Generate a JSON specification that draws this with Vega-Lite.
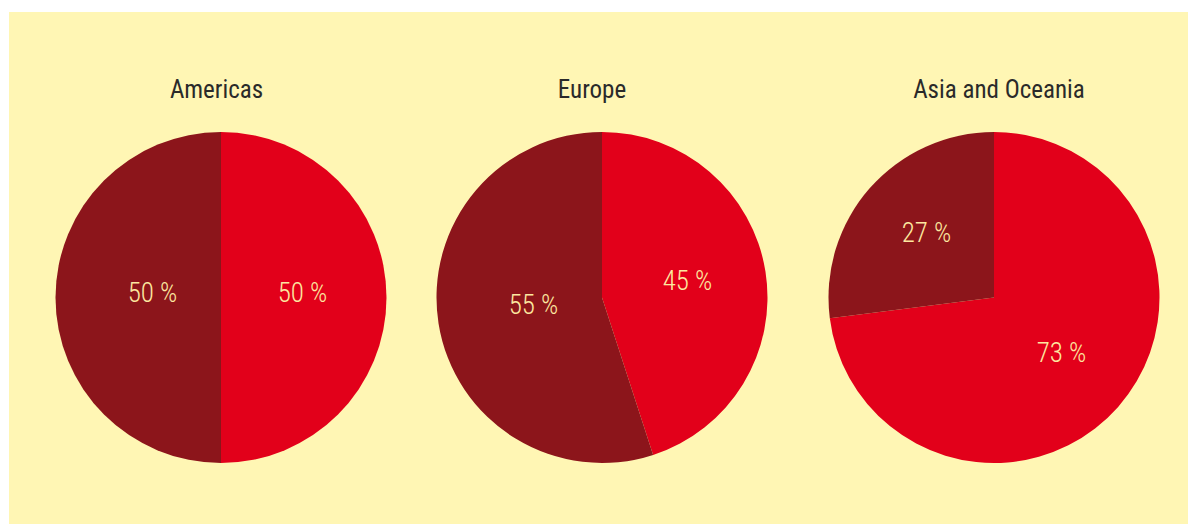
{
  "$schema": "https://vega.github.io/schema/vega-lite/v6.json",
  "background": "#ffffff",
  "padding": {"left": 9, "top": 12, "right": 0, "bottom": 0},
  "data": {"values": [
    {"region": "Americas", "group": "A", "share": 50, "label": "50 %"},
    {"region": "Americas", "group": "B", "share": 50, "label": "50 %"},
    {"region": "Europe", "group": "A", "share": 45, "label": "45 %"},
    {"region": "Europe", "group": "B", "share": 55, "label": "55 %"},
    {"region": "Asia and Oceania", "group": "A", "share": 73, "label": "73 %"},
    {"region": "Asia and Oceania", "group": "B", "share": 27, "label": "27 %"}
  ]},
  "spacing": 0,
  "hconcat": [
    {
      "width": 424, "height": 512,
      "view": {"fill": "#FFF6B4", "stroke": null},
      "title": {"text": "Americas", "offset": -91, "dx": -4.5},
      "transform": [{"filter": "datum.region === 'Americas'"}],
      "encoding": {
        "theta": {"field": "share", "type": "quantitative", "stack": true},
        "order": {"field": "group", "sort": "ascending"}
      },
      "layer": [
        {"mark": {"type": "arc", "outerRadius": 165.5, "yOffset": 29.5},
         "encoding": {"color": {"field": "group", "type": "nominal", "legend": null, "scale": {"domain": ["A", "B"], "range": ["#E2001A", "#8C151B"]}}}},
        {"mark": {"type": "text", "radius": 75, "xOffset": 6.5, "yOffset": 26, "fontSize": 27, "font": "Roboto Condensed, Liberation Sans Narrow, DejaVu Sans Condensed, sans-serif", "fontWeight": 300, "baseline": "middle", "align": "center"},
         "encoding": {"detail": {"field": "group"}, "text": {"field": "label"}, "color": {"value": "#FDE8A0"}}}
      ]
    },
    {
      "width": 338, "height": 512,
      "view": {"fill": "#FFF6B4", "stroke": null},
      "title": {"text": "Europe", "offset": -91, "dx": -10},
      "transform": [{"filter": "datum.region === 'Europe'"}],
      "encoding": {
        "theta": {"field": "share", "type": "quantitative", "stack": true},
        "order": {"field": "group", "sort": "ascending"}
      },
      "layer": [
        {"mark": {"type": "arc", "outerRadius": 165.5, "yOffset": 29.5},
         "encoding": {"color": {"field": "group", "type": "nominal", "legend": null, "scale": {"domain": ["A", "B"], "range": ["#E2001A", "#8C151B"]}}}},
        {"mark": {"type": "text", "radius": 78, "xOffset": 8.5, "yOffset": 26, "fontSize": 27, "font": "Roboto Condensed, Liberation Sans Narrow, DejaVu Sans Condensed, sans-serif", "fontWeight": 300, "baseline": "middle", "align": "center"},
         "encoding": {"detail": {"field": "group"}, "text": {"field": "label"}, "color": {"value": "#FDE8A0"}}}
      ]
    },
    {
      "width": 417, "height": 512,
      "view": {"fill": "#FFF6B4", "stroke": null},
      "title": {"text": "Asia and Oceania", "offset": -91, "dx": 19.5},
      "transform": [{"filter": "datum.region === 'Asia and Oceania'"}],
      "encoding": {
        "theta": {"field": "share", "type": "quantitative", "stack": true},
        "order": {"field": "group", "sort": "ascending"}
      },
      "layer": [
        {"mark": {"type": "arc", "outerRadius": 165.5, "xOffset": 14.5, "yOffset": 29.5},
         "encoding": {"color": {"field": "group", "type": "nominal", "legend": null, "scale": {"domain": ["A", "B"], "range": ["#E2001A", "#8C151B"]}}}},
        {"mark": {"type": "text", "radius": 90, "xOffset": 14.5, "yOffset": 26, "fontSize": 27, "font": "Roboto Condensed, Liberation Sans Narrow, DejaVu Sans Condensed, sans-serif", "fontWeight": 300, "baseline": "middle", "align": "center"},
         "encoding": {"detail": {"field": "group"}, "text": {"field": "label"}, "color": {"value": "#FDE8A0"}}}
      ]
    }
  ],
  "resolve": {"scale": {"color": "shared"}},
  "config": {
    "view": {"fill": "#FFF6B4", "stroke": null},
    "concat": {"spacing": 0},
    "title": {"orient": "top", "anchor": "middle", "fontSize": 25, "fontWeight": "normal", "font": "Roboto Condensed, Liberation Sans Narrow, DejaVu Sans Condensed, sans-serif", "color": "#2A2A2A", "baseline": "alphabetic"}
  }
}
